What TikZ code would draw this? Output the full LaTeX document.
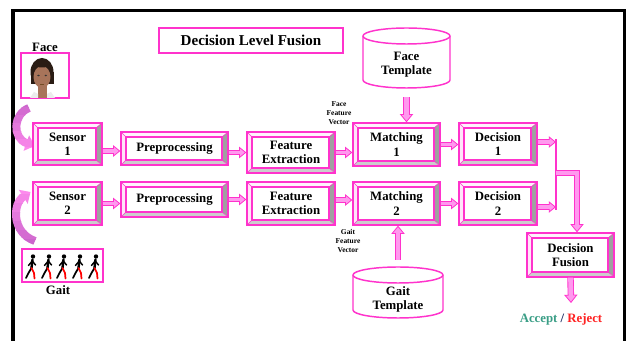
\documentclass[tikz,border=0pt]{standalone}
\usepackage{fontspec}
\setmainfont{Liberation Serif}
\usetikzlibrary{arrows.meta,calc}
\definecolor{mag}{HTML}{FF33CC}
\definecolor{pinkf}{HTML}{FF99EE}
\definecolor{orchidc}{HTML}{CC66CC}
\definecolor{pinkc}{HTML}{FF8CEE}
\definecolor{topb}{HTML}{FFF2FC}
\definecolor{leftb}{HTML}{FFE4F8}
\definecolor{rightb}{HTML}{A0A0A0}
\definecolor{botb}{HTML}{CCCCCC}
\definecolor{hairc}{HTML}{2A1C14}
\definecolor{skinc}{HTML}{A8745A}
\definecolor{acceptc}{HTML}{3A9E86}
\definecolor{slashc}{HTML}{1A2A60}
\definecolor{rejectc}{HTML}{FF2222}
\newcommand\bevelpic{%
  \coordinate (bNW) at (path picture bounding box.north west);
  \coordinate (bNE) at (path picture bounding box.north east);
  \coordinate (bSE) at (path picture bounding box.south east);
  \coordinate (bSW) at (path picture bounding box.south west);
  \coordinate (iNW) at ($(bNW)+(5,-5)$);
  \coordinate (iNE) at ($(bNE)+(-6,-5)$);
  \coordinate (iSE) at ($(bSE)+(-6,5)$);
  \coordinate (iSW) at ($(bSW)+(5,5)$);
  \fill[topb] (bNW) -- (bNE) -- (iNE) -- (iNW) -- cycle;
  \fill[leftb] (bNW) -- (iNW) -- (iSW) -- (bSW) -- cycle;
  \fill[rightb] (bNE) -- (bSE) -- (iSE) -- (iNE) -- cycle;
  \fill[botb] (bSW) -- (iSW) -- (iSE) -- (bSE) -- cycle;
  \draw[mag, line width=0.4pt] (bNW) -- (iNW) (bNE) -- (iNE) (bSE) -- (iSE) (bSW) -- (iSW);
  \draw[mag, line width=0.8pt, fill=white] (iNW) rectangle (iSE);
}
\tikzset{
  bev/.style={draw=mag, line width=1pt, fill=white, align=center, inner sep=0pt,
    font=\bfseries\fontsize{9.6}{10.6}\selectfont, path picture={\bevelpic}},
  lbl/.style={font=\bfseries\fontsize{9.6}{10.6}\selectfont, align=center, inner sep=0pt},
  tiny/.style={font=\bfseries\fontsize{5.6}{6.8}\selectfont, align=center, inner sep=0pt},
  arrowout/.style={mag, line width=3.8pt, -{Triangle[length=5.4pt,width=8.6pt,fill=pinkf,line width=0.6pt]}},
  arrowin/.style={pinkf, line width=2.5pt, shorten >=4.6pt},
  bigout/.style={mag, line width=4.8pt, -{Triangle[length=6.2pt,width=10pt,fill=pinkf,line width=0.6pt]}},
  bigin/.style={pinkf, line width=3.5pt, shorten >=5.4pt},
  cylst/.style={draw=mag, line width=1.1pt, fill=white},
  picbox/.style={draw=mag, line width=1.1pt, fill=white, inner sep=0pt},
}
\newcommand\barrow[1]{\draw[arrowout] #1; \draw[arrowin] #1;}
\newcommand\bigarrow[1]{\draw[bigout] #1; \draw[bigin] #1;}
% name x1 y1 x2 y2 text
\newcommand\bbox[6]{%
  \pgfmathsetmacro\bwd{(#4-#2)*0.75}\pgfmathsetmacro\bht{(#5-#3)*0.75}%
  \node[bev, minimum width=\bwd pt, minimum height=\bht pt] (#1) at ({(#2+#4)/2},{-(#3+#5)/2}) {#6};}
% name x1 y1 x2 y2 ry
\newcommand\cyl[6]{%
  \pgfmathsetmacro\crx{(#4-#2)/2}%
  \pgfmathsetmacro\cya{-#3-#6}\pgfmathsetmacro\cyb{-#5+#6}%
  \filldraw[cylst] (#2,\cya) -- (#2,\cyb) arc[start angle=180, end angle=360, x radius=\crx, y radius=#6] -- (#4,\cya) arc[start angle=0, end angle=180, x radius=\crx, y radius=#6] -- cycle;
  \draw[cylst, fill=none] (#2,\cya) arc[start angle=180, end angle=360, x radius=\crx, y radius=#6];
  \pgfmathsetmacro\bwd{(#4-#2)*0.75}\pgfmathsetmacro\bht{(#5-#3)*0.75}%
  \node[minimum width=\bwd pt, minimum height=\bht pt, inner sep=0pt] (#1) at ({(#2+#4)/2},{-(#3+#5)/2}) {};}
\begin{document}
\begin{tikzpicture}[x=0.75pt, y=0.75pt]
\useasboundingbox (0,0) rectangle (632,-341);
\fill[white] (0,0) rectangle (632,-341);
% frame
\draw[line width=2.3pt] (13,-341) -- (13,-10.3) -- (624.5,-10.3) -- (624.5,-341);
% title
\node[draw=mag, line width=1.1pt, fill=white, minimum width=138pt, minimum height=18.75pt,
  font=\bfseries\fontsize{11.3}{13}\selectfont] (title) at (251,-40.5) {Decision Level Fusion};
% face picture
\node[lbl] (facelbl) at (45,-47) {Face};
\node[picbox, minimum width=36pt, minimum height=33.75pt] (facepic) at (45,-75.5) {};
\begin{scope}
  \clip (21.6,-53.6) rectangle (68.4,-97.4);
  \fill[hairc] (42,-72) ellipse [x radius=11.5, y radius=14];
  \fill[hairc] (30.5,-72) rectangle (53.5,-84);
  \fill[skinc] (38,-84) rectangle (47,-98);
  \fill[skinc] (42,-77) ellipse [x radius=8.5, y radius=11];
  \fill[hairc] (42,-64) ellipse [x radius=9, y radius=3.5];
  \fill[black!80] (38.5,-75.5) ellipse [x radius=1.3, y radius=0.8];
  \fill[black!80] (45.8,-75.5) ellipse [x radius=1.3, y radius=0.8];
  \draw[brown!60!black, line width=0.5pt] (40,-84) -- (44,-84);
  \fill[white!85!gray] (30,-98) -- (34,-92) -- (38,-94) -- (38,-98) -- cycle;
  \fill[white!85!gray] (47,-98) -- (47,-94) -- (51,-92) -- (55,-98) -- cycle;
\end{scope}
% gait picture
\node[picbox, minimum width=60.75pt, minimum height=24.75pt] (gaitpic) at (62.5,-265.5) {};
\begin{scope}[line cap=round, line join=round]
  \foreach \gx in {32,48,63,79,95}{
    \fill (\gx+1,-256.5) circle [radius=2.2];
    \draw[line width=1.8pt] (\gx+0.5,-259.5) -- (\gx-0.5,-268);
    \draw[line width=1.1pt] (\gx+0.3,-261) -- (\gx-3.5,-265.5);
    \draw[line width=1.1pt] (\gx+0.3,-261) -- (\gx+3.5,-265);
    \draw[line width=1.3pt] (\gx-0.5,-268) -- (\gx-3.5,-273) -- (\gx-6,-278);
    \draw[line width=1.3pt, red] (\gx-0.5,-268) -- (\gx+2,-273) -- (\gx+2.5,-278.5);
  }
\end{scope}
\node[lbl] (gaitlbl) at (58,-290) {Gait};
% curved input arrows
\foreach \i in {0,...,6}{
  \pgfmathtruncatemacro\pc{100-\i*16}
  \begin{scope}
    \clip (5,{-100-\i*8}) rectangle (45,{-108-\i*8});
    \draw[line width=6pt, orchidc!\pc!pinkc, -{Triangle[length=6.5pt,width=12pt]}]
      (29,-108) .. controls (13,-114) and (12,-138) .. (34.5,-146);
  \end{scope}
}
\foreach \i in {0,...,6}{
  \pgfmathtruncatemacro\pc{4+\i*16}
  \begin{scope}
    \clip (5,{-186-\i*9}) rectangle (45,{-195-\i*9});
    \draw[line width=6pt, orchidc!\pc!pinkc, -{Triangle[length=6.5pt,width=12pt]}]
      (35,-241) .. controls (12,-233) and (12,-204) .. (30.5,-192);
  \end{scope}
}
% boxes row 1
\bbox{s1}{33}{123}{102}{165}{Sensor\\1}
\bbox{p1}{121}{132}{228}{165}{Preprocessing}
\bbox{fe1}{247}{132}{335}{173}{Feature\\Extraction}
\bbox{m1}{353}{123}{440}{166}{Matching\\1}
\bbox{d1}{459}{123}{537}{165}{Decision\\1}
% boxes row 2
\bbox{s2}{33}{182}{102}{225}{Sensor\\2}
\bbox{p2}{121}{182}{228}{217}{Preprocessing}
\bbox{fe2}{247}{182}{335}{225}{Feature\\Extraction}
\bbox{m2}{353}{182}{440}{225}{Matching\\2}
\bbox{d2}{459}{182}{537}{225}{Decision\\2}
% fusion
\bbox{fus}{527}{233}{614}{277}{Decision\\Fusion}
% templates
\cyl{ft}{363}{28}{450}{88}{8}
\node[lbl] (ftx) at (406.5,-65) {Face\\Template};
\cyl{gt}{353}{267}{443}{318}{8}
\node[lbl] (gtx) at (398,-299.5) {Gait\\Template};
% feature vector labels
\node[tiny] (ffv) at (339,-113) {Face\\Feature\\Vector};
\node[tiny] (gfv) at (348,-241) {Gait\\Feature\\Vector};
% arrows row 1
\barrow{($(s1.east)+(0,-7)$) -- ($(p1.west)+(0,-2.5)$)}
\barrow{(fe1.west -| p1.east) -- (fe1.west)}
\barrow{(fe1.east) -- (fe1.east -| m1.west)}
\barrow{(m1.east) -- (m1.east -| d1.west)}
% arrows row 2
\barrow{(s2.east) -- (s2.east -| p2.west)}
\barrow{(p2.east) -- (p2.east -| fe2.west)}
\barrow{($(fe2.east)+(0,3.5)$) -- ($(fe2.east -| m2.west)+(0,3.5)$)}
\barrow{(m2.east) -- (m2.east -| d2.west)}
% template arrows
\bigarrow{($(ft.south)+(0,-9)$) -- (ft.south |- m1.north)}
\bigarrow{($(gt.north)+(0,7)$) -- (gt.north |- m2.south)}
% decision merge
\coordinate (vtop) at (556,-139);
\coordinate (vbot) at (556,-210);
\coordinate (vmid) at (556,-173);
\draw[mag, line width=1.3pt] (vtop) -- (vbot);
\barrow{($(d1.east)+(0,2)$) -- ($(d1.east -| vtop)+(0,2)$)}
\barrow{($(d2.east)+(0,-3.5)$) -- ($(d2.east -| vtop)+(0,-3.5)$)}
\bigarrow{(vmid) -| ($(fus.north)+(6.5,0)$)}
% output
\coordinate (res) at (571,-303);
\bigarrow{(fus.south) -- (res)}
\node[lbl] (ar) at (561,-319) {\textcolor{acceptc}{Accept} \textcolor{slashc}{/} \textcolor{rejectc}{Reject}};
\end{tikzpicture}
\end{document}
